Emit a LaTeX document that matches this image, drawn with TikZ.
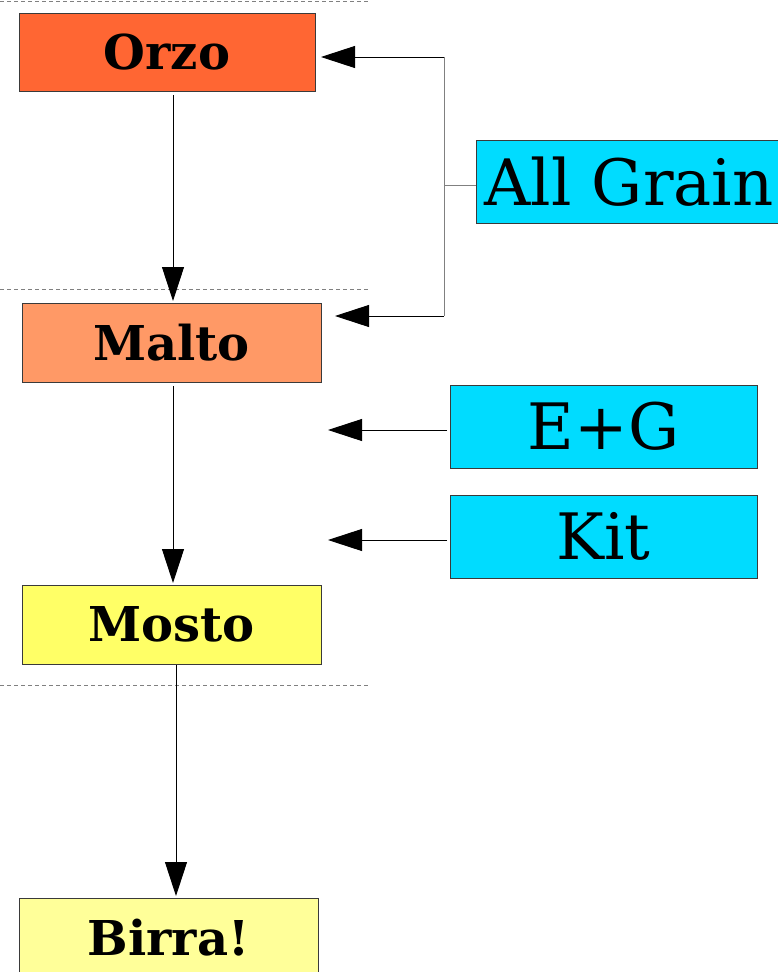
\documentclass[tikz,border=0pt]{standalone}
\usepackage{fontspec}
\setmainfont{DejaVu Serif}
\usetikzlibrary{arrows.meta}
\definecolor{corzo}{HTML}{FF6633}
\definecolor{cmalto}{HTML}{FF9966}
\definecolor{cmosto}{HTML}{FFFF66}
\definecolor{cbirra}{HTML}{FFFF99}
\definecolor{ccyan}{HTML}{00DCFF}
\definecolor{cborder}{HTML}{3A3A3A}
\tikzset{
  stagebox/.style={draw=cborder, line width=0.9pt, inner sep=0pt, outer sep=0pt,
    minimum width=298pt, minimum height=78pt,
    font=\fontsize{48}{54}\selectfont\bfseries},
  methodbox/.style={draw=cborder, line width=0.9pt, fill=ccyan, inner sep=0pt, outer sep=0pt,
    minimum width=307pt, minimum height=83pt,
    font=\fontsize{64}{70}\selectfont},
  arr/.style={line width=0.9pt, -{Triangle[length=34pt,width=22pt]}},
  conn/.style={line width=0.9pt},
  sep/.style={draw=gray, line width=0.8pt, dash pattern=on 4pt off 3pt}
}
\begin{document}
\begin{tikzpicture}[x=1pt,y=-1pt]
\useasboundingbox (0,0) rectangle (777,972);
% separators
\draw[sep] (0,1) -- (368,1);
\draw[sep] (0,289) -- (370,289);
\draw[sep] (0,685) -- (370,685);
% stage boxes
\node[stagebox, fill=corzo, minimum width=296pt] (orzo) at (167,52) {Orzo};
\node[stagebox, fill=cmalto, minimum width=299pt, minimum height=79pt] (malto) at (171.5,342.5) {Malto};
\node[stagebox, fill=cmosto, minimum width=299pt, minimum height=79pt] (mosto) at (171.5,624.5) {Mosto};
\node[stagebox, fill=cbirra, minimum width=299pt, minimum height=80pt] (birra) at (168.5,938) {Birra!};
% method boxes
\node[methodbox, minimum width=306pt] (ag) at (629,181.5) {All Grain};
\node[methodbox] (eg) at (603.5,426.5) {E+G};
\node[methodbox] (kit) at (603.5,536.5) {Kit};
% vertical flow
\coordinate (o1) at (173,95);
\coordinate (m1) at (173,301);
\coordinate (m2) at (173,386);
\coordinate (s1) at (173,583);
\coordinate (s2) at (176,665);
\coordinate (b1) at (176,896);
\draw[arr] (o1) -- (m1);
\draw[arr] (m2) -- (s1);
\draw[arr] (s2) -- (b1);
% all grain bracket
\coordinate (j) at (444,185);
\coordinate (jt) at (444,57);
\coordinate (jb) at (444,316);
\coordinate (to) at (321,57);
\coordinate (tm) at (335,316);
\draw[conn, draw=gray] (j -| ag.west) -- (j);
\draw[conn, draw=gray] (jt) -- (jb);
\draw[arr] (jt) -- (to);
\draw[arr] (jb) -- (tm);
% E+G and Kit
\coordinate (te) at (328,430);
\coordinate (tk) at (328,540);
\draw[arr] ([xshift=-3pt]eg.west |- te) -- (te);
\draw[arr] ([xshift=-3pt]kit.west |- tk) -- (tk);
\end{tikzpicture}
\end{document}
